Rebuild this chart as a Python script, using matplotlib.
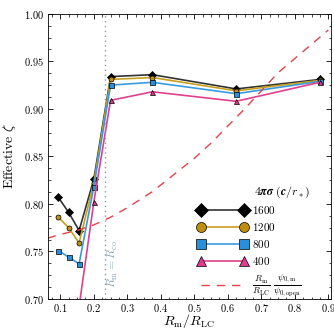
import matplotlib
matplotlib.use("Agg")
import matplotlib.pyplot as plt
from matplotlib.ticker import MultipleLocator, FuncFormatter

plt.rcParams['mathtext.fontset'] = 'cm'
plt.rcParams['font.family'] = 'serif'
plt.rcParams['font.serif'] = ['DejaVu Serif']

# R_m / R_LC sample positions
r_ratio = [0.094, 0.125, 0.156, 0.2, 0.25, 0.375, 0.625, 0.875]

# effective zeta for each 4*pi*sigma value
zeta_1600 = [0.807, 0.791, 0.772, 0.826, 0.934, 0.936, 0.921, 0.931]
zeta_1200 = [0.786, 0.775, 0.759, 0.822, 0.931, 0.933, 0.919, 0.930]
zeta_800 = [0.751, 0.744, 0.737, 0.818, 0.925, 0.928, 0.916, 0.929]
zeta_400 = [0.60, 0.64, 0.692, 0.802, 0.909, 0.918, 0.908, 0.928]

series_labels = ["$1600$", "$1200$", "$800$", "$400$"]

# reference curve (R_m/R_LC) * psi_0m / psi_0open
ref_x = [0.0625, 0.1, 0.15, 0.2, 0.25, 0.3, 0.375, 0.45, 0.5, 0.55, 0.6, 0.65, 0.7, 0.75, 0.8, 0.85, 0.9]
ref_y = [0.764, 0.768, 0.772, 0.778, 0.786, 0.796, 0.813, 0.834, 0.848, 0.864, 0.882, 0.900, 0.919, 0.938, 0.953, 0.968, 0.983]

r_co = 0.2325

fig = plt.figure(figsize=(3.34, 3.30), dpi=100)
ax = fig.add_axes([0.143, 0.094, 0.847, 0.864])

colors = ['black', '#c08e0a', '#2b8ed8', '#e03a8e']
line_colors = ['#333333', '#c8a020', '#3a9ae0', '#e0408e']
markers = ['D', 'o', 's', '^']
all_zeta = [zeta_1600, zeta_1200, zeta_800, zeta_400]

handles = []
for z, c, lc, m, lab in zip(all_zeta, colors, line_colors, markers, series_labels):
    h, = ax.plot(r_ratio, z, color=lc, marker=m, markersize=3.6, markerfacecolor=c,
                 markeredgecolor='black', markeredgewidth=0.5, lw=1.2, label=lab)
    handles.append(h)

hd, = ax.plot(ref_x, ref_y, color='#e8414a', ls=(0, (6, 5)), lw=1.0,
              label=r'$\frac{R_{\rm m}}{R_{\rm LC}}\;\frac{\psi_{0,\rm m}}{\psi_{0,\rm open}}$')
handles.append(hd)

ax.axvline(r_co, color='#7f9cb0', ls=(0, (1, 2.5)), lw=1.0)
ax.text(r_co + 0.004, 0.712, r'$R_{\rm m}=R_{\rm co}$', rotation=90, color='#8aa6b8',
        fontsize=8.5, ha='left', va='bottom')

ax.set_xlim(0.0625, 0.907)
ax.set_ylim(0.70, 1.00)
ax.xaxis.set_major_locator(MultipleLocator(0.1))
ax.xaxis.set_minor_locator(MultipleLocator(0.025))
ax.yaxis.set_major_locator(MultipleLocator(0.05))
ax.yaxis.set_minor_locator(MultipleLocator(0.0125))
ax.xaxis.set_major_formatter(FuncFormatter(lambda v, p: f'${v:.1f}$'))
ax.yaxis.set_major_formatter(FuncFormatter(lambda v, p: f'${v:.2f}$'))
ax.tick_params(which='both', direction='in', top=True, right=True, labelsize=7.5)
ax.tick_params(which='major', length=3.5, width=0.6, pad=3)
ax.tick_params(which='minor', length=1.8, width=0.5)
ax.tick_params(axis='x', which='major', pad=2)
for sp in ax.spines.values():
    sp.set_linewidth(0.6)

ax.set_xlabel(r'$R_{\rm m}/R_{\rm LC}$', fontsize=10, labelpad=-1)
ax.set_ylabel(r'${\rm Effective}\ \zeta$', fontsize=10, labelpad=4)

leg = ax.legend(handles=handles, loc='lower right', bbox_to_anchor=(0.913, -0.015),
                frameon=False, numpoints=2,
                markerscale=2.0, fontsize=8, handlelength=4.5, handletextpad=0.45,
                labelspacing=0.45, borderaxespad=0.0)
leg.get_texts()[4].set_fontsize(9.5)

# legend heading, placed by hand so it sits over the label column
ax.text(0.729, 0.375, r'$\mathbf{4}\boldsymbol{\pi\sigma}\ \mathbf{(}\boldsymbol{c/r_*}\mathbf{)}$',
        transform=ax.transAxes, fontsize=8.5, ha='left', va='center')

fig.savefig('out.png', dpi=100)
